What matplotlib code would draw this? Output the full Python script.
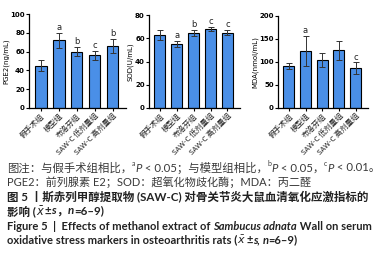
import matplotlib
matplotlib.use("Agg")
import matplotlib.pyplot as plt
import numpy as np

plt.rcParams['font.family'] = ['Noto Sans CJK SC', 'DejaVu Sans']
plt.rcParams['mathtext.fontset'] = 'dejavusans'

#group names on the x axis
groups = ['假手术组', '模型组', '布洛芬组', 'SAW-C 低剂量组', 'SAW-C 高剂量组']

#values (mean, sd, significance letter)
pge2 = [45, 72, 60, 56, 66]
pge2_err = [6, 8, 5, 5, 7]
pge2_sig = ['', 'a', 'b', 'c', 'b']

sod = [63, 55, 64.5, 68, 65]
sod_err = [4.5, 2.5, 2.5, 1.5, 2]
sod_sig = ['', 'a', 'b', 'c', 'c']

mda = [91, 124, 104, 125, 86]
mda_err = [6, 32, 16, 21, 13]
mda_sig = ['', 'a', '', '', 'c']

bar_color = '#4a8fe7'

fig = plt.figure(figsize=(3.83, 2.70), dpi=100)

panels = [
    ([0.076, 0.600, 0.253, 0.348], pge2, pge2_err, pge2_sig, 'PGE2(ng/mL)', 100, 20),
    ([0.389, 0.600, 0.238, 0.344], sod, sod_err, sod_sig, 'SOD(U/mL)', 80, 20),
    ([0.726, 0.600, 0.235, 0.341], mda, mda_err, mda_sig, 'MDA(nmol/mL)', 200, 50),
]

x = np.arange(len(groups))
for rect, vals, errs, sigs, ylab, ymax, step in panels:
    ax = fig.add_axes(rect)
    ax.bar(x, vals, width=0.65, color=bar_color, edgecolor='black', linewidth=0.8,
           yerr=errs, error_kw=dict(ecolor='#333333', elinewidth=0.7, capsize=2, capthick=0.7))
    for xi, v, e, s in zip(x, vals, errs, sigs):
        if s:
            ax.text(xi, v + e + ymax * 0.01, s, ha='center', va='bottom', fontsize=6,
                    family='DejaVu Sans', color='#222222')
    ax.set_xlim(-0.65, 4.75)
    ax.set_ylim(0, ymax)
    ax.set_yticks(np.arange(0, ymax + 1, step))
    for lbl in ax.get_yticklabels():
        lbl.set_fontweight('bold')
        lbl.set_fontfamily('DejaVu Sans')
    ax.tick_params(axis='y', labelsize=5, length=2, width=0.8, pad=1)
    ax.tick_params(axis='x', labelsize=5.5, length=2, width=0.8, pad=1, labelcolor='#222222')
    ax.set_xticks(x)
    ax.set_xticklabels(groups, rotation=45, ha='right', rotation_mode='anchor')
    ax.set_ylabel(ylab, fontsize=5, family='DejaVu Sans', labelpad=1)
    ax.spines['top'].set_visible(False)
    ax.spines['right'].set_visible(False)
    ax.spines['left'].set_linewidth(0.9)
    ax.spines['bottom'].set_linewidth(0.9)

renderer = fig.canvas.get_renderer()
W = fig.bbox.width
cap_fam = ['Lato', 'Noto Sans CJK SC', 'DejaVu Sans']


def rich_line(x0, y0, segs, size, color, weight='normal'):
    #draw a line of text made of pieces with different styles, one after another
    xpos = x0
    for s, style in segs:
        kw = dict(fontsize=size, color=color, weight=weight, va='center', ha='left', family=cap_fam)
        if style == 'i':
            kw['style'] = 'italic'
        elif style == 'sup':
            kw['fontsize'] = size * 0.6
            kw['va'] = 'bottom'
        t = fig.text(xpos, y0 if style != 'sup' else y0 + 0.002, s, **kw)
        xpos += t.get_window_extent(renderer).width / W


gray = '#3a3a3a'
rich_line(0.018, 1 - 168 / 270, [
    ('图注：与假手术组相比，', ''), ('a', 'sup'), ('P', 'i'), (' < 0.05；与模型组相比，', ''),
    ('b', 'sup'), ('P', 'i'), (' < 0.05，', ''), ('c', 'sup'), ('P', 'i'), (' < 0.01。', '')], 8.2, gray)
rich_line(0.018, 1 - 182 / 270, [
    ('PGE2：前列腺素 E2；SOD：超氧化物歧化酶；MDA：丙二醛', '')], 8.0, gray)
rich_line(0.018, 1 - 197 / 270, [
    ('图 5 丨斯赤列甲醇提取物 (SAW-C) 对骨关节炎大鼠血清氧化应激指标的', '')], 8.3, '#222222', 'bold')
rich_line(0.018, 1 - 211 / 270, [
    ('影响 (', ''), (r'$\bar{x}$', 'i'), ('±', ''), ('s', 'i'), ('，', ''), ('n', 'i'), ('=6–9)', '')],
    8.3, '#222222', 'bold')
rich_line(0.018, 1 - 226 / 270, [
    ('Figure 5  |  Effects of methanol extract of ', ''), ('Sambucus adnata', 'i'),
    (' Wall on serum', '')], 8.0, '#222222', 'bold')
rich_line(0.018, 1 - 240 / 270, [
    ('oxidative stress markers in osteoarthritis rats (', ''), (r'$\bar{x}$', 'i'), ('±', ''),
    ('s', 'i'), (', ', ''), ('n', 'i'), ('=6–9)', '')], 8.0, '#222222', 'bold')

fig.savefig('out.png', dpi=100)
